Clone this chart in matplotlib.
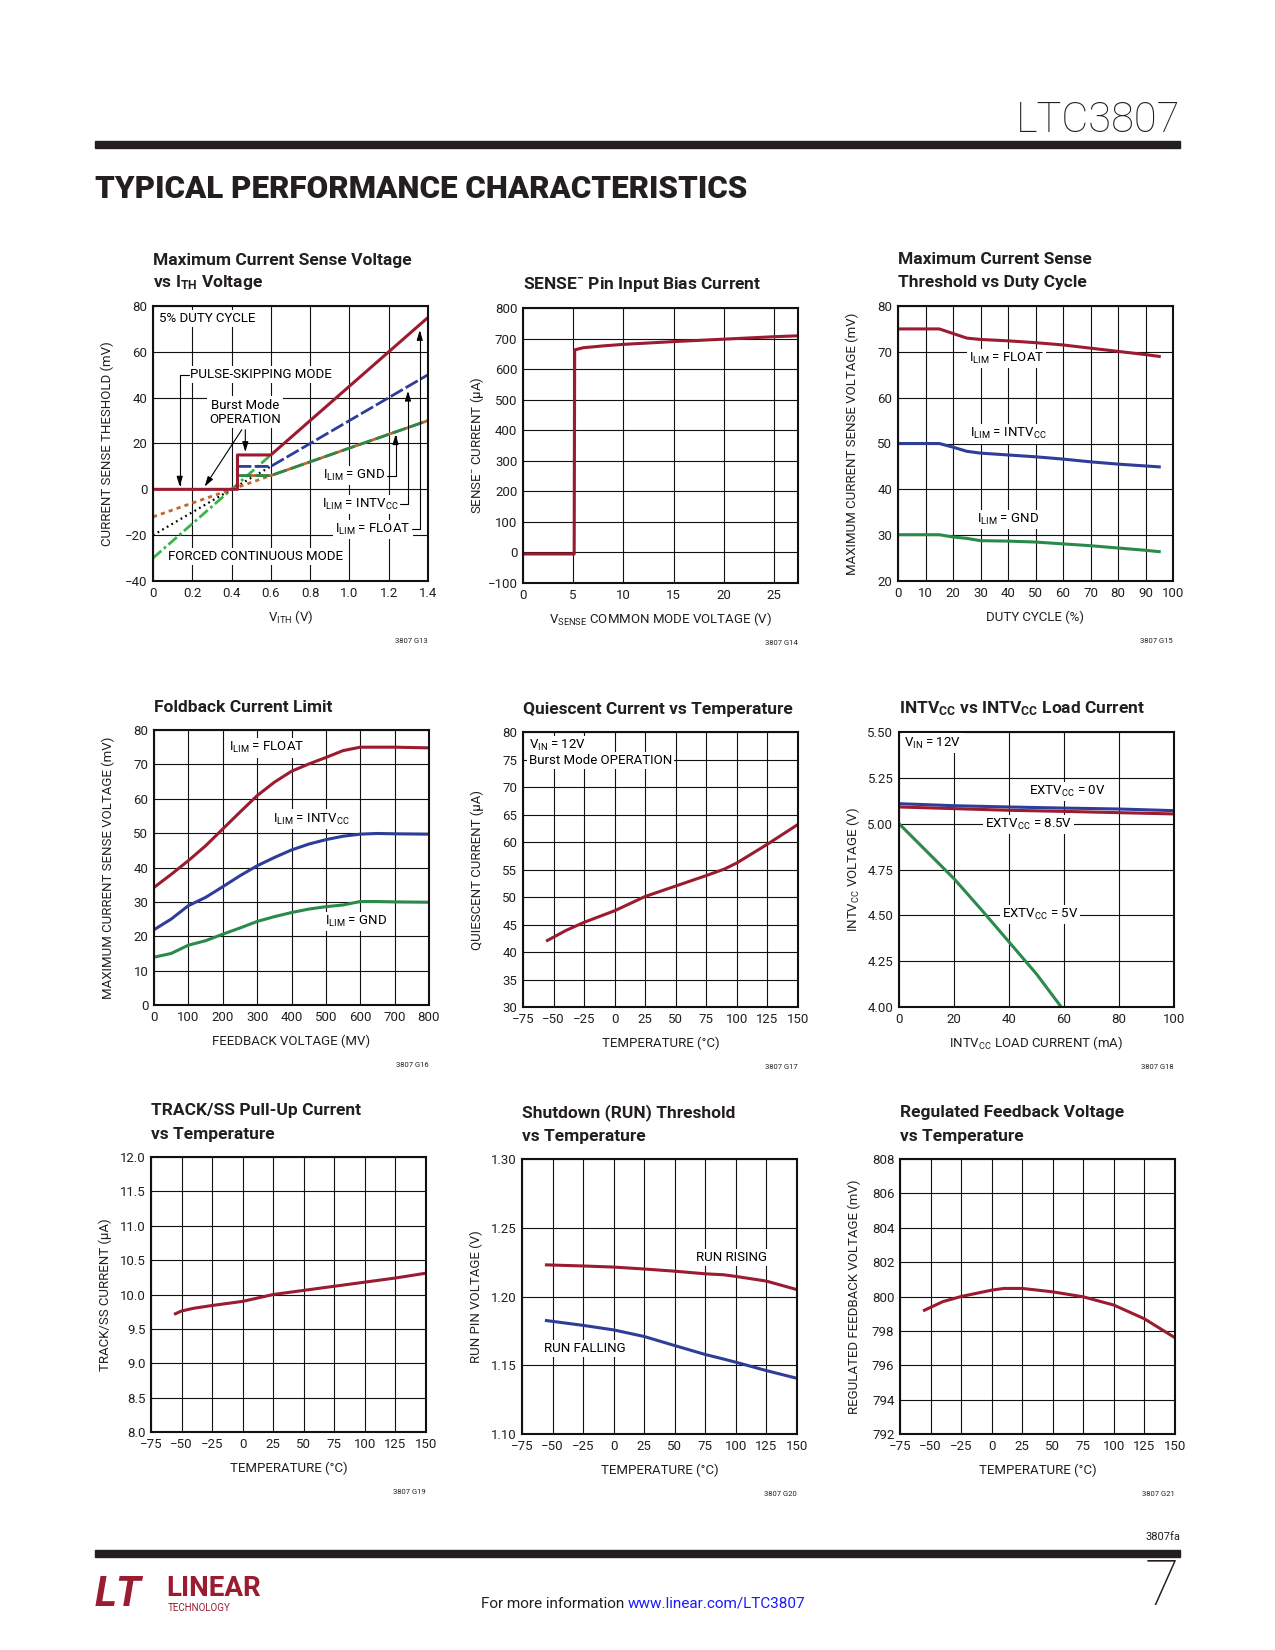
import numpy as np
import matplotlib.pyplot as plt

# fontes: Roboto e a mais estreita que temos (a folha usa Helvetica Condensed)
plt.rcParams['font.family'] = ['Roboto', 'DejaVu Sans']
plt.rcParams['mathtext.fontset'] = 'custom'
plt.rcParams['mathtext.rm'] = 'Roboto'
plt.rcParams['mathtext.it'] = 'Roboto:italic'
plt.rcParams['mathtext.bf'] = 'Roboto:bold'

RED = '#9b1b30'
BLUE = '#2e3d98'
GREEN = '#2a8a4a'
LGREEN = '#3cb34a'
ORANGE = '#c4652c'
INK = '#231f20'

# ---- dados ----
# G13: tensao de sense vs VITH
vith_float = [0, 0.43, 0.43, 0.6, 1.4]
sense_float = [0, 0, 15, 15, 75]
vith_intvcc = [0.43, 0.6, 1.4]
sense_intvcc = [10, 10, 50]
vith_gnd = [0.43, 0.6, 1.4]
sense_gnd = [6, 6, 30]
vith_fcm = [0, 0.6]
fcm_float = [-30, 15]
fcm_intvcc = [-20, 10]
fcm_gnd = [-12, 6]
g13_xticks = [0, 0.2, 0.4, 0.6, 0.8, 1.0, 1.2, 1.4]
g13_xlabels = ['0', '0.2', '0.4', '0.6', '0.8', '1.0', '1.2', '1.4']
g13_yticks = [-40, -20, 0, 20, 40, 60, 80]

# G14: corrente de polarizacao do SENSE-
vsense = [0, 5.1, 5.15, 6, 8, 10, 15, 20, 25, 27.4]
isense = [-5, -5, 663, 670, 676, 681, 690, 698, 706, 709]
g14_xticks = [0, 5, 10, 15, 20, 25]
g14_yticks = [-100, 0, 100, 200, 300, 400, 500, 600, 700, 800]

# G15: limiar maximo vs ciclo de trabalho
duty = [0, 10, 15, 20, 25, 30, 40, 50, 60, 70, 80, 90, 95]
duty_float = [75, 75, 75, 74, 73, 72.7, 72.4, 72, 71.5, 70.8, 70.1, 69.4, 69]
duty_intvcc = [50, 50, 50, 49.2, 48.3, 47.9, 47.5, 47.1, 46.6, 46, 45.5, 45.1, 44.9]
duty_gnd = [30.1, 30.1, 30.1, 29.6, 29.3, 28.8, 28.7, 28.5, 28.1, 27.7, 27.2, 26.7, 26.4]

# G16: foldback
vfb = [0, 50, 100, 150, 200, 250, 300, 350, 400, 450, 500, 550, 600, 650, 700, 800]
fold_float = [34.2, 38, 42, 46.3, 51.2, 56.1, 60.9, 64.8, 68, 70.1, 72, 74, 75, 75, 75, 74.8]
fold_intvcc = [21.9, 25, 28.9, 31.3, 34.4, 37.6, 40.5, 42.9, 45.1, 46.8, 48.1, 49.1, 49.7, 49.9, 49.8, 49.7]
fold_gnd = [13.9, 15, 17.4, 18.7, 20.6, 22.4, 24.3, 25.7, 26.9, 27.9, 28.6, 29.1, 30.1, 30.1, 30, 29.9]

# G17: corrente quiescente
temp_iq = [-55, -50, -40, -25, 0, 25, 50, 75, 90, 100, 125, 150]
iq = [42.1, 42.7, 43.9, 45.4, 47.5, 50.1, 52.0, 53.9, 55.1, 56.2, 59.6, 63.2]

# G18: INTVCC vs carga
iload = [0, 20, 40, 60, 80, 100]
intvcc_0v = [5.109, 5.098, 5.091, 5.085, 5.08, 5.071]
intvcc_85v = [5.091, 5.082, 5.073, 5.067, 5.06, 5.053]
iload_5v = [0, 10, 20, 30, 40, 50, 59]
intvcc_5v = [5.0, 4.85, 4.70, 4.53, 4.355, 4.18, 4.0]

# G19: corrente TRACK/SS
temp_ss = [-55, -50, -40, -25, 0, 25, 50, 75, 100, 125, 150]
iss = [9.72, 9.76, 9.80, 9.84, 9.90, 10.0, 10.06, 10.12, 10.18, 10.24, 10.31]

# G20: limiar do RUN
temp_run = [-55, -25, 0, 25, 50, 75, 90, 100, 125, 150]
run_rising = [1.223, 1.2222, 1.2214, 1.220, 1.2184, 1.2165, 1.2158, 1.2146, 1.2112, 1.205]
run_falling = [1.1825, 1.179, 1.1757, 1.1709, 1.1643, 1.1578, 1.1545, 1.1522, 1.1461, 1.1405]

# G21: tensao de realimentacao
temp_fb = [-55, -40, -25, 0, 10, 25, 50, 75, 100, 125, 150]
vfb_reg = [799.2, 799.7, 800.0, 800.37, 800.47, 800.47, 800.27, 799.98, 799.5, 798.7, 797.6]

temp_ticks = [-75, -50, -25, 0, 25, 50, 75, 100, 125, 150]

# ---- figura ----
W, H = 1275, 1650
fig = plt.figure(figsize=(W / 100, H / 100), dpi=100)
white = dict(facecolor='white', edgecolor='none', pad=1.5)
FS = 9.5  # texto dentro dos graficos


def make_axes(left, top, size=275):
    return fig.add_axes([left / W, 1 - (top + size) / H, size / W, size / H])


def style(ax, xlim, ylim, xticks, yticks, xlabel, ylabel, xlabels=None, ylabels=None):
    ax.set_xlim(xlim)
    ax.set_ylim(ylim)
    ax.set_xticks(xticks)
    ax.set_yticks(yticks)
    if xlabels is not None:
        ax.set_xticklabels(xlabels)
    if ylabels is not None:
        ax.set_yticklabels(ylabels)
    ax.set_axisbelow(True)
    ax.grid(True, color='#111111', lw=0.8)
    ax.tick_params(length=0, pad=4, labelsize=9.5, colors=INK)
    for s in ax.spines.values():
        s.set_linewidth(1.5)
        s.set_color('#111111')
    ax.set_xlabel(xlabel, fontsize=9.5, color=INK)
    ax.xaxis.set_label_coords(0.5, -0.132)
    ax.xaxis.label.set_va('center')
    ax.set_ylabel(ylabel, fontsize=9.5, color=INK)
    ax.yaxis.set_label_coords(-0.167, 0.5)
    ax.yaxis.label.set_va('center')


def title(ax, lines):
    # ultima linha fica logo acima do grafico
    for i, line in enumerate(reversed(lines)):
        ax.text(0, 1 + (23 + 23 * i) / 275, line, transform=ax.transAxes,
                ha='left', va='center', fontsize=12.5, fontweight='bold', color=INK)


def code(ax, txt):
    ax.text(1, -60 / 275, txt, transform=ax.transAxes, ha='right', va='center',
            fontsize=5.5, color=INK)


def arrow(ax, tip, start, conn='arc3'):
    ax.annotate('', xy=tip, xytext=start,
                arrowprops=dict(arrowstyle='-|>,head_length=0.6,head_width=0.18',
                                color='black', lw=0.8, shrinkA=0, shrinkB=0,
                                connectionstyle=conn, mutation_scale=10))


# ---- G13 ----
ax = make_axes(153, 306)
ax.plot(vith_fcm, fcm_float, color=LGREEN, lw=2, dashes=(4, 1.2, 1, 1.2))
ax.plot(vith_fcm, fcm_intvcc, color='black', lw=1.6, dashes=(0.8, 1.6))
ax.plot(vith_fcm, fcm_gnd, color=ORANGE, lw=2, dashes=(1.5, 1.5))
ax.plot(vith_gnd, sense_gnd, color=ORANGE, lw=2)
ax.plot(vith_gnd, sense_gnd, color=GREEN, lw=2, dashes=(5, 1.5))
ax.plot(vith_intvcc, sense_intvcc, color=BLUE, lw=2, dashes=(5, 1.2))
ax.plot(vith_float, sense_float, color=RED, lw=2.2)
style(ax, (0, 1.4), (-40, 80), g13_xticks, g13_yticks,
      'V$_{\\mathrm{ITH}}$ (V)', 'CURRENT SENSE THESHOLD (mV)', xlabels=g13_xlabels)
title(ax, ['Maximum Current Sense Voltage', 'vs I$_{\\mathbf{TH}}$ Voltage'])
code(ax, '3807 G13')
ax.text(0.03, 74.5, '5% DUTY CYCLE', fontsize=FS, va='center', bbox=white)
ax.text(0.188, 50, 'PULSE-SKIPPING MODE', fontsize=FS, va='center', bbox=white)
arrow(ax, (0.136, 1.2), (0.183, 50), 'angle,angleA=0,angleB=90,rad=0')
ax.text(0.467, 33.7, 'Burst Mode\nOPERATION', fontsize=FS, ha='center', va='center',
        linespacing=1.1, bbox=white)
arrow(ax, (0.47, 16.3), (0.47, 26))
arrow(ax, (0.263, 1.2), (0.452, 26))
ax.text(1.183, 5.9, 'I$_{\\mathrm{LIM}}$ = GND', fontsize=FS, ha='right', va='center', bbox=white)
arrow(ax, (1.235, 24), (1.19, 5.9), 'angle,angleA=0,angleB=90,rad=0')
ax.text(1.251, -6.5, 'I$_{\\mathrm{LIM}}$ = INTV$_{\\mathrm{CC}}$', fontsize=FS, ha='right',
        va='center', bbox=white)
arrow(ax, (1.298, 43), (1.256, -6.5), 'angle,angleA=0,angleB=90,rad=0')
ax.text(1.312, -17.4, 'I$_{\\mathrm{LIM}}$ = FLOAT', fontsize=FS, ha='right', va='center', bbox=white)
arrow(ax, (1.358, 69.5), (1.318, -17.4), 'angle,angleA=0,angleB=90,rad=0')
ax.text(0.076, -29.2, 'FORCED CONTINUOUS MODE', fontsize=FS, va='center', bbox=white)

# ---- G14 ----
ax = make_axes(523, 308)
ax.plot(vsense, isense, color=RED, lw=2.2)
style(ax, (0, 27.4), (-100, 800), g14_xticks, g14_yticks,
      'V$_{\\mathrm{SENSE}}$ COMMON MODE VOLTAGE (V)', 'SENSE$^{-}$ CURRENT (µA)')
title(ax, ['SENSE$^{\\mathbf{-}}$ Pin Input Bias Current'])
code(ax, '3807 G14')

# ---- G15 ----
ax = make_axes(898, 306)
ax.plot(duty, duty_float, color=RED, lw=2.2)
ax.plot(duty, duty_intvcc, color=BLUE, lw=2.2)
ax.plot(duty, duty_gnd, color=GREEN, lw=2.2)
style(ax, (0, 100), (20, 80), np.arange(0, 101, 10), np.arange(20, 81, 10),
      'DUTY CYCLE (%)', 'MAXIMUM CURRENT SENSE VOLTAGE (mV)')
title(ax, ['Maximum Current Sense', 'Threshold vs Duty Cycle'])
code(ax, '3807 G15')
ax.text(39.4, 68.5, 'I$_{\\mathrm{LIM}}$ = FLOAT', fontsize=FS, ha='center', va='center', bbox=white)
ax.text(40, 52.1, 'I$_{\\mathrm{LIM}}$ = INTV$_{\\mathrm{CC}}$', fontsize=FS, ha='center',
        va='center', bbox=white)
ax.text(40, 33.4, 'I$_{\\mathrm{LIM}}$ = GND', fontsize=FS, ha='center', va='center', bbox=white)

# ---- G16 ----
ax = make_axes(154, 730)
ax.plot(vfb, fold_float, color=RED, lw=2.2)
ax.plot(vfb, fold_intvcc, color=BLUE, lw=2.2)
ax.plot(vfb, fold_gnd, color=GREEN, lw=2.2)
style(ax, (0, 800), (0, 80), np.arange(0, 801, 100), np.arange(0, 81, 10),
      'FEEDBACK VOLTAGE (MV)', 'MAXIMUM CURRENT SENSE VOLTAGE (mV)')
title(ax, ['Foldback Current Limit'])
code(ax, '3807 G16')
ax.text(327, 74.8, 'I$_{\\mathrm{LIM}}$ = FLOAT', fontsize=FS, ha='center', va='center', bbox=white)
ax.text(458, 54.1, 'I$_{\\mathrm{LIM}}$ = INTV$_{\\mathrm{CC}}$', fontsize=FS, ha='center',
        va='center', bbox=white)
ax.text(589, 24.3, 'I$_{\\mathrm{LIM}}$ = GND', fontsize=FS, ha='center', va='center', bbox=white)

# ---- G17 ----
ax = make_axes(523, 732)
ax.plot(temp_iq, iq, color=RED, lw=2.2)
style(ax, (-75, 150), (30, 80), temp_ticks, np.arange(30, 81, 5),
      'TEMPERATURE (°C)', 'QUIESCENT CURRENT (µA)')
title(ax, ['Quiescent Current vs Temperature'])
code(ax, '3807 G17')
ax.text(-70, 77.6, 'V$_{\\mathrm{IN}}$ = 12V', fontsize=FS, va='center', bbox=white)
ax.text(-70, 74.8, 'Burst Mode OPERATION', fontsize=FS, va='center', bbox=white)

# ---- G18 ----
ax = make_axes(899, 732)
ax.plot(iload, intvcc_0v, color=BLUE, lw=2.2)
ax.plot(iload, intvcc_85v, color=RED, lw=2.2)
ax.plot(iload_5v, intvcc_5v, color=GREEN, lw=2.2)
style(ax, (0, 100), (4.0, 5.5), np.arange(0, 101, 20), [4.0, 4.25, 4.5, 4.75, 5.0, 5.25, 5.5],
      'INTV$_{\\mathrm{CC}}$ LOAD CURRENT (mA)', 'INTV$_{\\mathrm{CC}}$ VOLTAGE (V)',
      ylabels=['4.00', '4.25', '4.50', '4.75', '5.00', '5.25', '5.50'])
title(ax, ['INTV$_{\\mathbf{CC}}$ vs INTV$_{\\mathbf{CC}}$ Load Current'])
code(ax, '3807 G18')
ax.text(2, 5.44, 'V$_{\\mathrm{IN}}$ = 12V', fontsize=FS, va='center', bbox=white)
ax.text(61, 5.176, 'EXTV$_{\\mathrm{CC}}$ = 0V', fontsize=FS, ha='center', va='center', bbox=white)
ax.text(47, 4.995, 'EXTV$_{\\mathrm{CC}}$ = 8.5V', fontsize=FS, ha='center', va='center', bbox=white)
ax.text(51.2, 4.504, 'EXTV$_{\\mathrm{CC}}$ = 5V', fontsize=FS, ha='center', va='center', bbox=white)

# ---- G19 ----
ax = make_axes(151, 1157)
ax.plot(temp_ss, iss, color=RED, lw=2.2)
style(ax, (-75, 150), (8, 12), temp_ticks, np.arange(8, 12.01, 0.5),
      'TEMPERATURE (°C)', 'TRACK/SS CURRENT (µA)',
      ylabels=['8.0', '8.5', '9.0', '9.5', '10.0', '10.5', '11.0', '11.5', '12.0'])
title(ax, ['TRACK/SS Pull-Up Current', 'vs Temperature'])
code(ax, '3807 G19')

# ---- G20 ----
ax = make_axes(522, 1159)
ax.plot(temp_run, run_rising, color=RED, lw=2.2)
ax.plot(temp_run, run_falling, color=BLUE, lw=2.2)
style(ax, (-75, 150), (1.10, 1.30), temp_ticks, [1.10, 1.15, 1.20, 1.25, 1.30],
      'TEMPERATURE (°C)', 'RUN PIN VOLTAGE (V)',
      ylabels=['1.10', '1.15', '1.20', '1.25', '1.30'])
title(ax, ['Shutdown (RUN) Threshold', 'vs Temperature'])
code(ax, '3807 G20')
ax.text(96.3, 1.2286, 'RUN RISING', fontsize=FS, ha='center', va='center', bbox=white)
ax.text(-23.5, 1.1624, 'RUN FALLING', fontsize=FS, ha='center', va='center', bbox=white)

# ---- G21 ----
ax = make_axes(900, 1159)
ax.plot(temp_fb, vfb_reg, color=RED, lw=2.2)
style(ax, (-75, 150), (792, 808), temp_ticks, np.arange(792, 809, 2),
      'TEMPERATURE (°C)', 'REGULATED FEEDBACK VOLTAGE (mV)')
title(ax, ['Regulated Feedback Voltage', 'vs Temperature'])
code(ax, '3807 G21')

# ---- cabecalho e rodape da pagina ----
fig.text(1180 / W, 1 - 121 / H, 'LTC3807', ha='right', va='center', fontsize=30,
         fontweight='light', color=INK)
fig.add_artist(plt.Rectangle((95 / W, 1 - 148 / H), 1085 / W, 7 / H, color=INK,
                             transform=fig.transFigure))
fig.text(95 / W, 1 - 189 / H, 'TYPICAL PERFORMANCE CHARACTERISTICS', ha='left', va='center',
         fontsize=22.5, fontweight='heavy', color=INK)

fig.text(1180 / W, 1 - 1537 / H, '3807fa', ha='right', va='center', fontsize=8, color=INK)
fig.add_artist(plt.Rectangle((95 / W, 1 - 1557 / H), 1085 / W, 7 / H, color=INK,
                             transform=fig.transFigure))
fig.text(1179 / W, 1 - 1588 / H, '7', ha='right', va='center', fontsize=45,
         fontweight='light', color=INK)
fig.text(624 / W, 1 - 1604 / H, 'For more information', ha='right', va='center',
         fontsize=11, color=INK)
fig.text(628 / W, 1 - 1604 / H, 'www.linear.com/LTC3807', ha='left', va='center',
         fontsize=11, color='#1a1aff')
fig.text(95 / W, 1 - 1594 / H, 'LT', ha='left', va='center', fontsize=30, fontweight='bold',
         fontstyle='italic', color=RED)
fig.text(166 / W, 1 - 1588 / H, 'LINEAR', ha='left', va='center', fontsize=20,
         fontweight='bold', color=RED)
fig.text(168 / W, 1 - 1608 / H, 'TECHNOLOGY', ha='left', va='center', fontsize=7, color=RED)

fig.savefig('out.png', dpi=100)
